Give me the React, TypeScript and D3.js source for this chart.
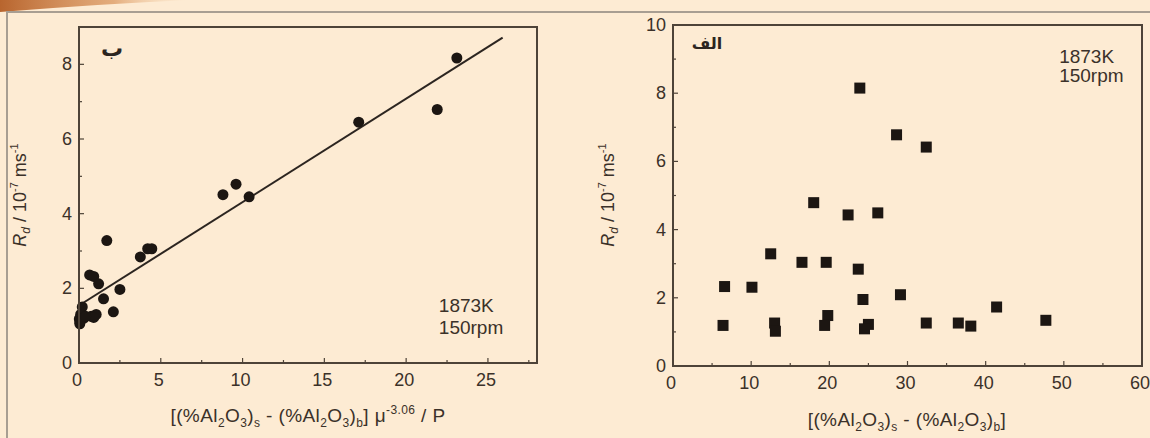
import React from "react";
import * as d3 from "d3";

// panel ب : Rd against the viscosity-corrected driving force (circles + fit)
const leftXs = [23.1, 21.9, 17.1, 9.6, 8.8, 10.4, 1.7, 4.2, 4.45, 3.75, 0.65, 0.9, 1.2, 2.5, 1.5, 0.2, 2.1, 1.05, 0.75, 0.05, 0.1, 0.3, 0.02, 0.9, 0.05, 0.4];
const leftYs = [8.17, 6.79, 6.45, 4.79, 4.51, 4.45, 3.28, 3.06, 3.06, 2.84, 2.36, 2.32, 2.12, 1.97, 1.72, 1.5, 1.37, 1.3, 1.25, 1.05, 1.3, 1.2, 1.18, 1.22, 1.1, 1.25];
const fitIntercept = 1.54;
const fitSlope = 0.277;
const fitEnd = 25.9;

// panel الف : Rd against the alumina difference (squares)
const rightXs = [23.9, 28.6, 32.4, 18.0, 22.4, 26.2, 12.5, 16.5, 19.6, 23.7, 6.6, 10.1, 24.3, 29.1, 41.4, 19.8, 6.4, 13.0, 13.1, 19.4, 25.0, 24.5, 32.4, 36.5, 38.1, 47.7];
const rightYs = [8.15, 6.78, 6.42, 4.79, 4.43, 4.49, 3.29, 3.04, 3.04, 2.84, 2.33, 2.31, 1.95, 2.09, 1.73, 1.48, 1.19, 1.26, 1.02, 1.19, 1.22, 1.09, 1.26, 1.26, 1.17, 1.34];

const leftXTicks = [0, 5, 10, 15, 20, 25];
const leftYTicks = [0, 2, 4, 6, 8];
const rightXTicks = [0, 10, 20, 30, 40, 50, 60];
const rightYTicks = [0, 2, 4, 6, 8, 10];

const BG = "#fdebd3";
const INK = "#3b3129";
const FRAME = "#4e4338";
const FONT = "'Liberation Sans', Arial, sans-serif";

const Panel = ({ box, xDomain, yDomain, xTicks, yTicks, xMinorStep, yMinorStep, children }) => {
  const x = d3.scaleLinear().domain(xDomain).range([box.left, box.right]);
  const y = d3.scaleLinear().domain(yDomain).range([box.bottom, box.top]);
  const xMinor = d3.range(xDomain[0] + xMinorStep, xDomain[1], xMinorStep);
  const yMinor = d3.range(yDomain[0] + yMinorStep, yDomain[1], yMinorStep);
  return (
    <g>
      {xMinor.map((v, i) => {
        const major = xTicks.includes(+v.toFixed(3));
        return <line key={"xm" + i} x1={x(v)} x2={x(v)} y1={box.bottom} y2={box.bottom - (major ? 5 : 3)} stroke={FRAME} strokeWidth={1.2} />;
      })}
      {yMinor.map((v, i) => {
        const major = yTicks.includes(+v.toFixed(3));
        return <line key={"ym" + i} x1={box.left} x2={box.left + (major ? 5 : 3)} y1={y(v)} y2={y(v)} stroke={FRAME} strokeWidth={1.2} />;
      })}
      {xTicks.map(v => (
        <text key={"xt" + v} x={x(v) - 2} y={box.bottom + 23} textAnchor="middle" fontSize={18} fill={INK} fontFamily={FONT}>{v}</text>
      ))}
      {yTicks.map(v => (
        <text key={"yt" + v} x={box.left - 7} y={y(v) + 6} textAnchor="end" fontSize={18} fill={INK} fontFamily={FONT}>{v}</text>
      ))}
      {children(x, y)}
      <rect x={box.left} y={box.top} width={box.right - box.left} height={box.bottom - box.top} fill="none" stroke={FRAME} strokeWidth={2} />
    </g>
  );
};

const YTitle = ({ cx, cy }) => (
  <text transform={`translate(${cx},${cy}) rotate(-90)`} textAnchor="middle" fontSize={18} fill={INK} fontFamily={FONT}>
    <tspan fontStyle="italic">R</tspan>
    <tspan fontStyle="italic" fontSize={12} dy={4}>d</tspan>
    <tspan dy={-4}> / 10</tspan>
    <tspan fontSize={11} dy={-8}>-7</tspan>
    <tspan dy={8}> ms</tspan>
    <tspan fontSize={11} dy={-8}>-1</tspan>
  </text>
);

const XTitleBase = () => (
  <>
    <tspan>[(%Al</tspan>
    <tspan fontSize={12} dy={5}>2</tspan>
    <tspan dy={-5}>O</tspan>
    <tspan fontSize={12} dy={5}>3</tspan>
    <tspan dy={-5}>)</tspan>
    <tspan fontSize={12} dy={5}>s</tspan>
    <tspan dy={-5}> - (%Al</tspan>
    <tspan fontSize={12} dy={5}>2</tspan>
    <tspan dy={-5}>O</tspan>
    <tspan fontSize={12} dy={5}>3</tspan>
    <tspan dy={-5}>)</tspan>
    <tspan fontSize={12} dy={5}>b</tspan>
    <tspan dy={-5}>]</tspan>
  </>
);

export default function App() {
  const leftBox = { left: 79, right: 537, top: 27, bottom: 363 };
  const rightBox = { left: 673, right: 1142, top: 25, bottom: 366 };
  const fitLine = d3.line();

  return (
    <svg width={1150} height={438} style={{ position: "absolute", left: 0, top: 0 }}>
      <defs>
        <linearGradient id="swoosh" x1="0" x2="1" y1="0" y2="0">
          <stop offset="0" stopColor="#b8652e" />
          <stop offset="0.6" stopColor="#d99258" stopOpacity="0.7" />
          <stop offset="1" stopColor="#f5d2a8" stopOpacity="0" />
        </linearGradient>
      </defs>
      <rect x={0} y={0} width={1150} height={438} fill={BG} />
      <path d="M0,0 L190,0 Q100,4 0,12 Z" fill="url(#swoosh)" />
      <path d="M7,438 L7,12 L1150,12" fill="none" stroke="#a89e92" strokeWidth={2} />

      <Panel box={leftBox} xDomain={[0, 28]} yDomain={[0, 9]} xTicks={leftXTicks} yTicks={leftYTicks} xMinorStep={2.5} yMinorStep={1}>
        {(x, y) => (
          <g>
            <path d={fitLine([[x(0), y(fitIntercept)], [x(fitEnd), y(fitIntercept + fitSlope * fitEnd)]])} stroke="#2c2520" strokeWidth={2} fill="none" />
            {leftXs.map((v, i) => (
              <circle key={i} cx={x(v)} cy={y(leftYs[i])} r={5.5} fill="#1c1612" />
            ))}
            <text x={x(22.0)} y={y(1.37)} fontSize={19} fill={INK} fontFamily={FONT}>1873K</text>
            <text x={x(22.0)} y={y(0.78)} fontSize={19} fill={INK} fontFamily={FONT}>150rpm</text>
            <text x={112} y={56} textAnchor="middle" fontSize={22} fontWeight="bold" fill="#2c2520" fontFamily="'DejaVu Sans', sans-serif">ب</text>
          </g>
        )}
      </Panel>
      <YTitle cx={26} cy={195} />
      <text x={308} y={422} textAnchor="middle" fontSize={19} letterSpacing={0.4} fill={INK} fontFamily={FONT}>
        <XTitleBase />
        <tspan> μ</tspan>
        <tspan fontSize={12} dy={-8}>-3.06</tspan>
        <tspan dy={8}> / P</tspan>
      </text>

      <Panel box={rightBox} xDomain={[0, 60]} yDomain={[0, 10]} xTicks={rightXTicks} yTicks={rightYTicks} xMinorStep={5} yMinorStep={1}>
        {(x, y) => (
          <g>
            {rightXs.map((v, i) => (
              <rect key={i} x={x(v) - 5.5} y={y(rightYs[i]) - 5.5} width={11} height={11} fill="#1c1612" />
            ))}
            <text x={x(49.4)} y={y(8.9)} fontSize={19} fill={INK} fontFamily={FONT}>1873K</text>
            <text x={x(49.4)} y={y(8.32)} fontSize={19} fill={INK} fontFamily={FONT}>150rpm</text>
            <text x={707} y={49} textAnchor="middle" fontSize={16} fontWeight="bold" fill="#2c2520" fontFamily="'DejaVu Sans', sans-serif">الف</text>
          </g>
        )}
      </Panel>
      <YTitle cx={614} cy={195} />
      <text x={907} y={426} textAnchor="middle" fontSize={19} letterSpacing={0.4} fill={INK} fontFamily={FONT}>
        <XTitleBase />
      </text>
    </svg>
  );
}
